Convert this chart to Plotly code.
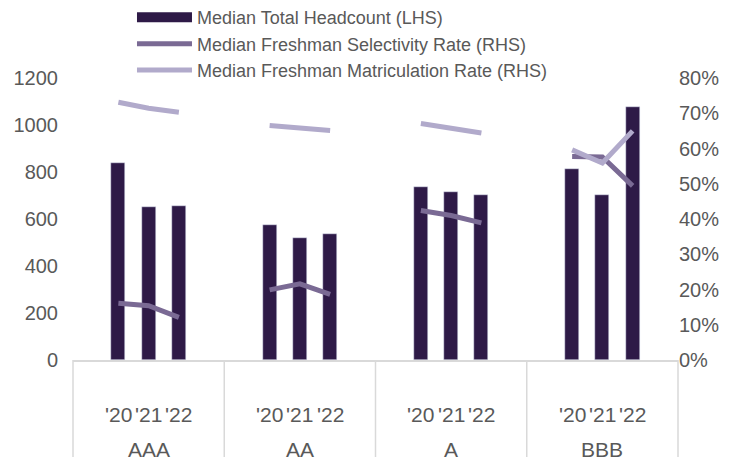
import plotly.graph_objects as go

groups = ["AAA", "AA", "A", "BBB"]
years = ["'20", "'21", "'22"]
headcount = [
    [840, 652, 656],
    [574, 519, 536],
    [736, 716, 703],
    [813, 703, 1078],
]
selectivity = [
    [0.161, 0.154, 0.121],
    [0.199, 0.216, 0.186],
    [0.424, 0.410, 0.389],
    [0.577, 0.576, 0.494],
]
matriculation = [
    [0.731, 0.714, 0.703],
    [0.665, 0.659, 0.651],
    [0.671, 0.657, 0.644],
    [0.596, 0.559, 0.650],
]

SLOTS = 5  # per group: blank, '20, '21, '22, blank
FONT = "Liberation Sans, Arial, sans-serif"
TXT = "#595959"
GRID = "#D9D9D9"
BAR_COLOR = "#2E1A47"

def xpos(g, i):
    return g * SLOTS + 1.5 + i

bar_x, bar_y = [], []
for g in range(len(groups)):
    for i in range(len(years)):
        bar_x.append(xpos(g, i))
        bar_y.append(headcount[g][i])

def line_xy(data):
    xs, ys = [], []
    for g in range(len(groups)):
        for i in range(len(years)):
            xs.append(xpos(g, i))
            ys.append(data[g][i])
        xs.append(None)
        ys.append(None)
    return xs, ys

fig = go.Figure()
fig.add_trace(go.Bar(x=bar_x, y=bar_y, width=0.46, marker_color=BAR_COLOR,
                     name="Median Total Headcount (LHS)", yaxis="y",
                     legendgroup="hc", showlegend=False))
# legend entry drawn as a wide band like the reference
fig.add_trace(go.Scatter(x=[None], y=[None], mode="lines", yaxis="y",
                         line=dict(color=BAR_COLOR, width=10),
                         name="Median Total Headcount (LHS)", legendgroup="hc"))
sx, sy = line_xy(selectivity)
fig.add_trace(go.Scatter(x=sx, y=sy, mode="lines", yaxis="y2",
                         line=dict(color="#7A6A94", width=5),
                         name="Median Freshman Selectivity Rate (RHS)"))
mx, my = line_xy(matriculation)
fig.add_trace(go.Scatter(x=mx, y=my, mode="lines", yaxis="y2",
                         line=dict(color="#B1AACB", width=5),
                         name="Median Freshman Matriculation Rate (RHS)"))

total = len(groups) * SLOTS
shapes = []
for g in range(len(groups) + 1):
    xp = g * SLOTS / total
    shapes.append(dict(type="line", xref="paper", yref="paper", x0=xp, x1=xp,
                       y0=0, y1=-0.5, line=dict(color=GRID, width=1.5)))

annotations = []
for g, name in enumerate(groups):
    for i, yr in enumerate(years):
        annotations.append(dict(x=xpos(g, i), xref="x", y=-0.195, yref="paper",
                                text=yr, showarrow=False,
                                font=dict(family=FONT, size=21, color=TXT),
                                xanchor="center", yanchor="middle"))
    annotations.append(dict(x=g * SLOTS + SLOTS / 2, xref="x", y=-0.318, yref="paper",
                            text=name, showarrow=False,
                            font=dict(family=FONT, size=21, color=TXT),
                            xanchor="center", yanchor="middle"))

fig.update_layout(
    width=727, height=449,
    margin=dict(l=65, r=57, t=70, b=97, autoexpand=False),
    plot_bgcolor="white", paper_bgcolor="white",
    font=dict(family=FONT, size=19, color=TXT),
    showlegend=True,
    legend=dict(x=0.0975, y=1.28, xanchor="left", yanchor="top",
                bgcolor="rgba(0,0,0,0)", font=dict(size=18, color=TXT),
                tracegroupgap=0, itemwidth=55),
    xaxis=dict(range=[0, total], showticklabels=False, showgrid=False,
               zeroline=False, showline=True, linecolor=GRID, linewidth=1.5,
               ticks="", fixedrange=True),
    yaxis=dict(range=[0, 1200], dtick=200, showgrid=False, zeroline=False,
               showline=False, ticks="", tickfont=dict(size=20, color=TXT),
               ticklabelstandoff=14),
    yaxis2=dict(range=[0, 0.8], dtick=0.1, tickformat=".0%", overlaying="y",
                side="right", showgrid=False, zeroline=False, showline=False,
                ticks="", tickfont=dict(size=20, color=TXT)),
    shapes=shapes,
    annotations=annotations,
    bargap=0,
)

fig.write_html("out.html")
